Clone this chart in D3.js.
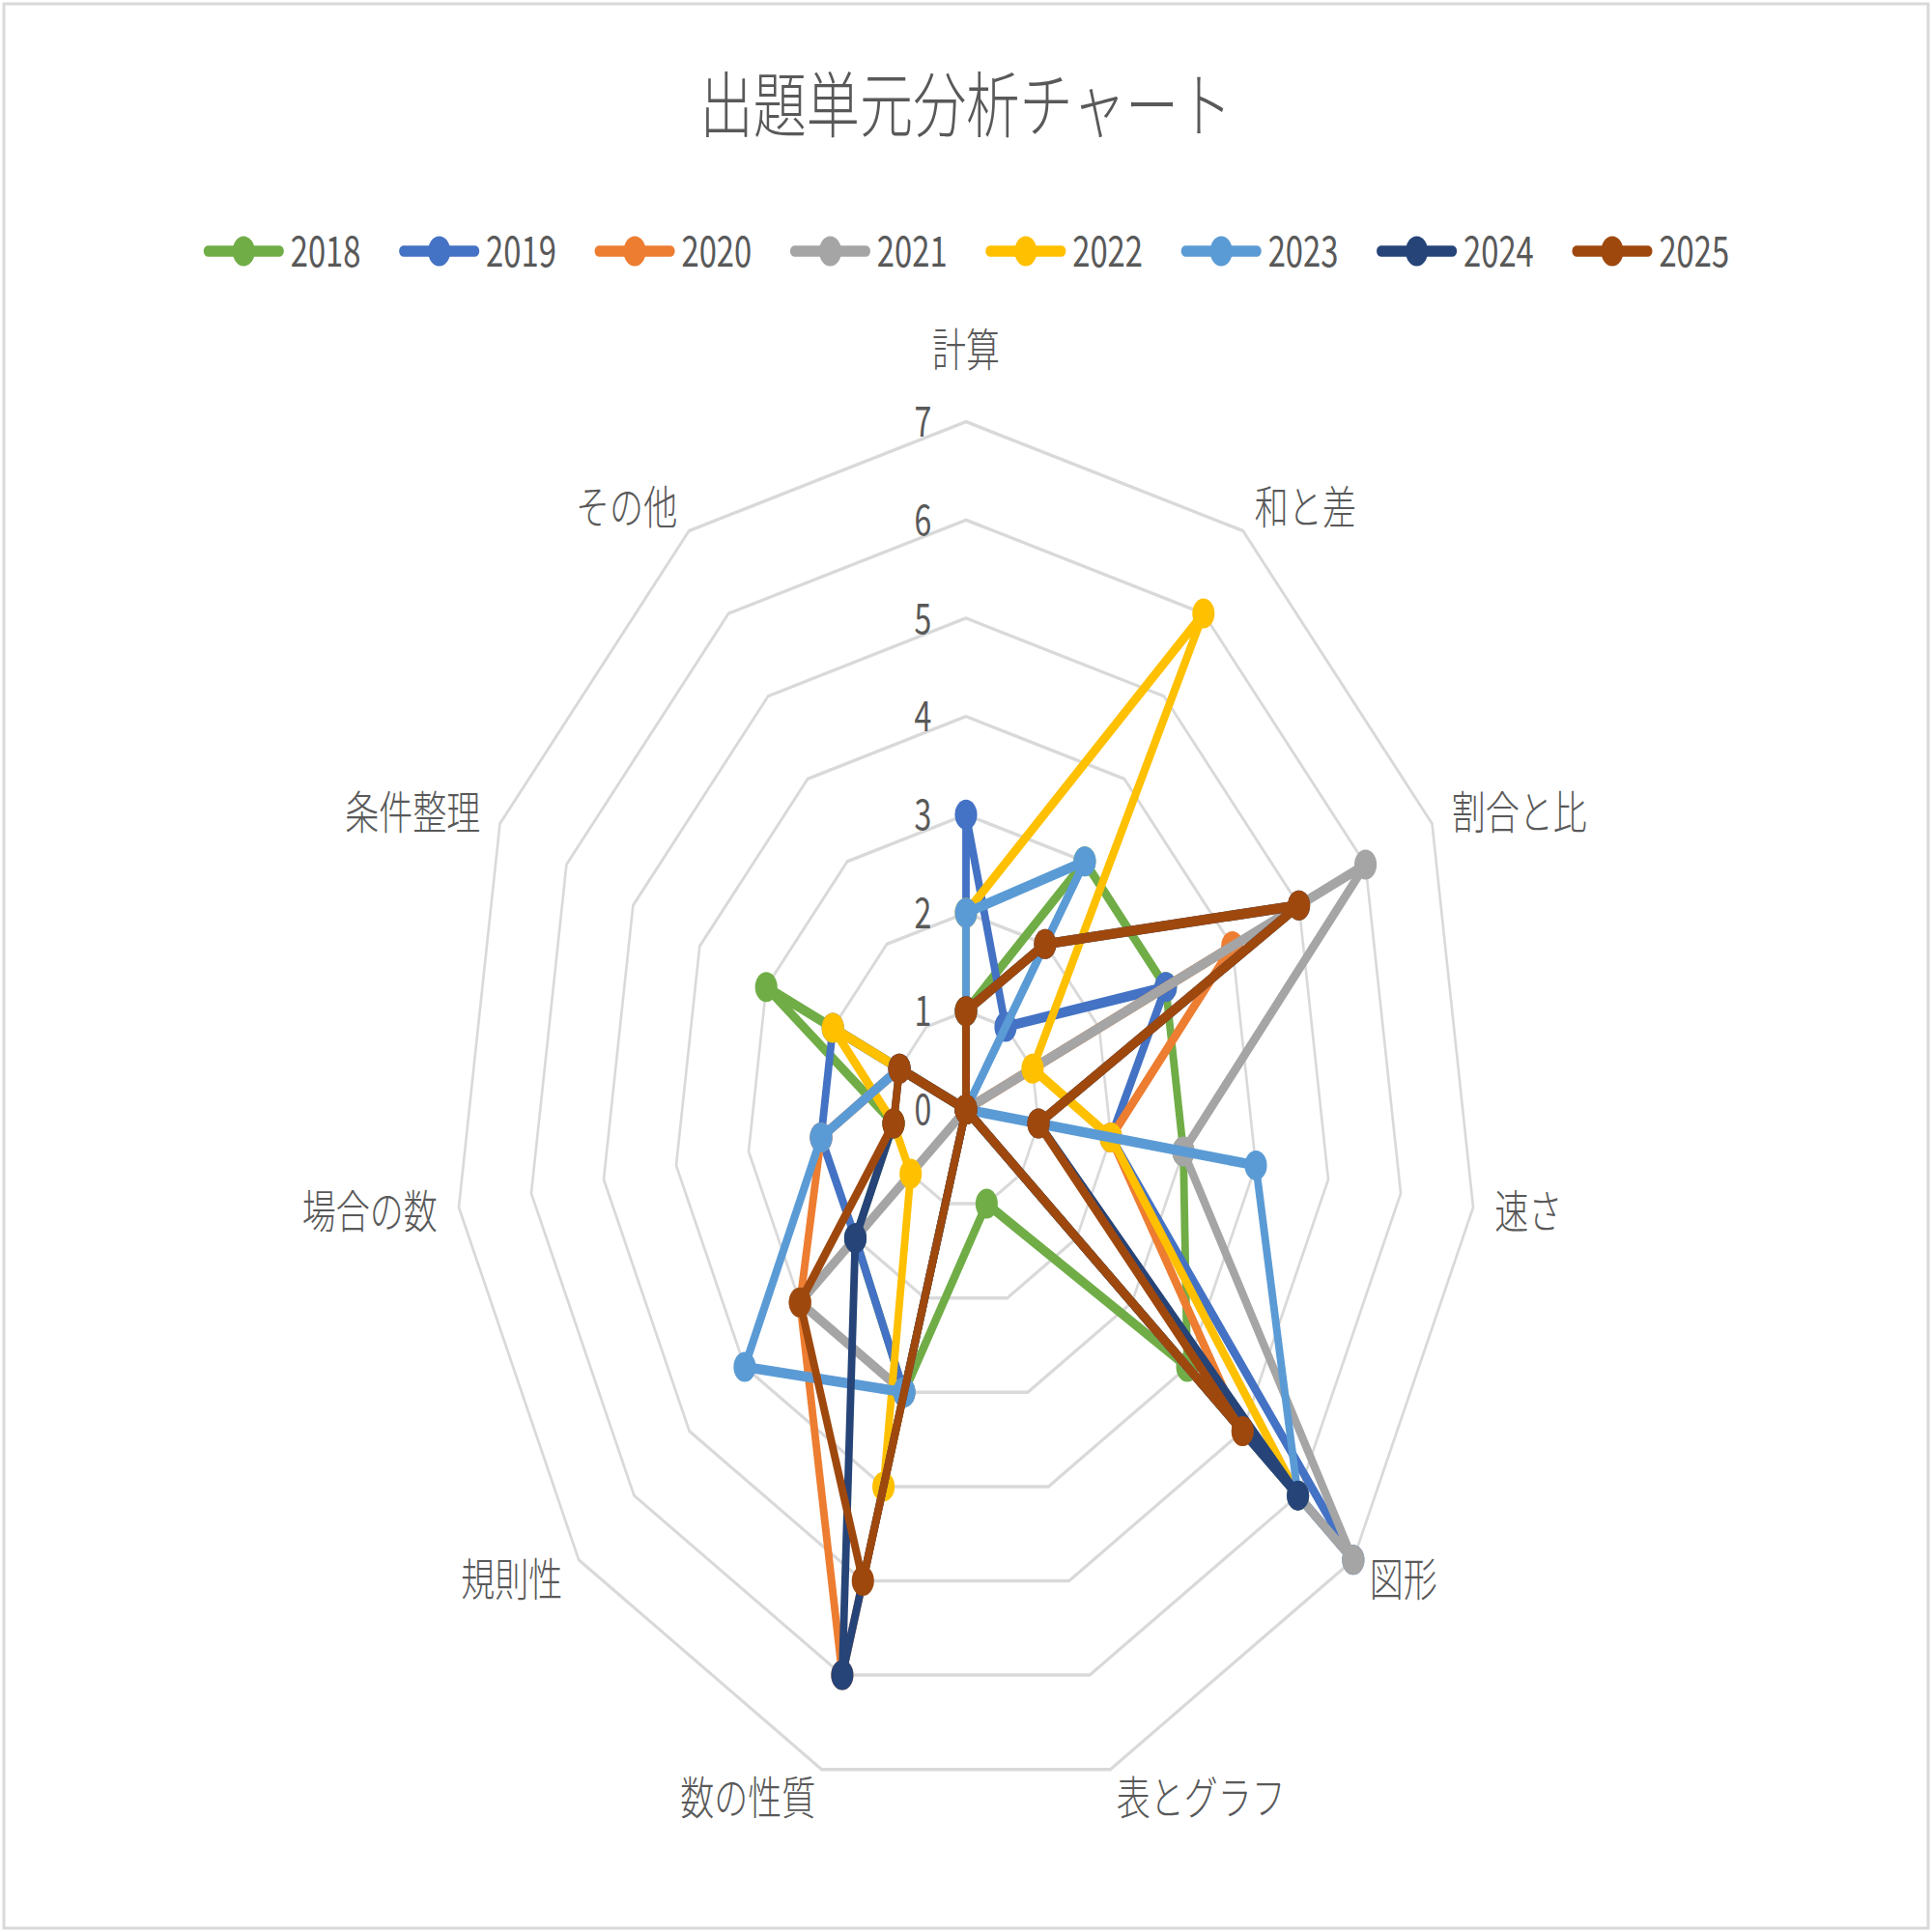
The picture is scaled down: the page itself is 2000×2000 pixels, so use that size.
<!DOCTYPE html>
<html>
<head>
<meta charset="utf-8">
<script src="https://cdn.jsdelivr.net/npm/d3@7"></script>
<style>
html, body { margin: 0; padding: 0; background: #ffffff; }
</style>
</head>
<body>
<div id="chart"></div>
<script>
// chart data
var chartTitle = "出題単元分析チャート";
var categories = ["計算", "和と差", "割合と比", "速さ", "図形", "表とグラフ", "数の性質", "規則性", "場合の数", "条件整理", "その他"];
var years = ["2018", "2019", "2020", "2021", "2022", "2023", "2024", "2025"];
var s2018 = [1, 3, 3, 3, 4, 1, 3, 2, 1, 3, 0];
var s2019 = [3, 1, 3, 2, 7, 0, 3, 2, 2, 2, 0];
var s2020 = [0, 0, 4, 2, 5, 0, 6, 3, 2, 1, 0];
var s2021 = [0, 0, 6, 3, 7, 0, 3, 3, 0, 0, 0];
var s2022 = [2, 6, 1, 2, 6, 0, 4, 1, 1, 2, 0];
var s2023 = [2, 3, 0, 4, 6, 0, 3, 4, 2, 1, 0];
var s2024 = [1, 2, 5, 1, 6, 0, 6, 2, 1, 1, 0];
var s2025 = [1, 2, 5, 1, 5, 0, 5, 3, 1, 1, 0];
var tickValues = [0, 1, 2, 3, 4, 5, 6, 7];

var seriesValues = [s2018, s2019, s2020, s2021, s2022, s2023, s2024, s2025];
var seriesColors = ["#70ad47", "#4472c4", "#ed7d31", "#a5a5a5", "#ffc000", "#5b9bd5", "#264478", "#9e480e"];

var W = 2000, H = 2000;
var cx = 1000, cy = 1148.5;
var squash = 0.745;          // whole chart is drawn narrower than tall
var FONT = '"Noto Sans CJK JP", "Noto Sans", sans-serif';
var TEXTCOL = "#595959", GRIDCOL = "#d9d9d9";

var svg = d3.select("#chart").append("svg")
    .attr("width", W).attr("height", H)
    .style("display", "block");

svg.append("rect")
    .attr("x", 4).attr("y", 4).attr("width", W - 8).attr("height", H - 8)
    .attr("fill", "#ffffff").attr("stroke", GRIDCOL).attr("stroke-width", 3);

var root = svg.append("g")
    .attr("transform", "translate(" + cx + ",0) scale(" + squash + ",1) translate(" + (-cx) + ",0)");

// title
root.append("text")
    .attr("x", cx).attr("y", 136)
    .attr("text-anchor", "middle")
    .attr("font-family", FONT).attr("font-weight", 300).attr("font-size", 74)
    .attr("fill", TEXTCOL)
    .text(chartTitle);

// legend
var legendY = 260, lineLen = 114, legFs = 44;
var legend = root.append("g");
var items = legend.selectAll("g.item").data(years).enter().append("g").attr("class", "item");
items.append("text")
    .attr("font-family", FONT).attr("font-weight", 400).attr("font-size", legFs)
    .attr("fill", TEXTCOL)
    .attr("y", legendY + 0.365 * legFs)
    .text(function (d) { return d; });
var widths = [];
items.select("text").each(function () { widths.push(this.getComputedTextLength()); });
var itemGap = 52, textGap = 8;
var total = 0;
widths.forEach(function (w, i) { total += lineLen + textGap + w + (i < widths.length - 1 ? itemGap : 0); });
var xpos = cx - total / 2;
items.each(function (d, i) {
    var g = d3.select(this);
    g.attr("transform", "translate(" + xpos + ",0)");
    g.insert("line", "text")
        .attr("x1", 7).attr("x2", lineLen - 7).attr("y1", legendY).attr("y2", legendY)
        .attr("stroke", seriesColors[i]).attr("stroke-width", 11.5)
        .attr("stroke-linecap", "round");
    g.insert("circle", "text")
        .attr("cx", lineLen / 2).attr("cy", legendY).attr("r", 15.5)
        .attr("fill", seriesColors[i]);
    g.select("text").attr("x", lineLen + textGap);
    xpos += lineLen + textGap + widths[i] + itemGap;
});

// radar
var step = 2 * Math.PI / categories.length;
var r = d3.scaleLinear().domain([0, 7]).range([0, 712]);
var radial = d3.lineRadial()
    .angle(function (d, i) { return i * step; })
    .radius(function (d) { return r(d); })
    .curve(d3.curveLinearClosed);

var plot = root.append("g").attr("transform", "translate(" + cx + "," + cy + ")");

plot.selectAll("path.ring").data(tickValues.slice(1)).enter().append("path")
    .attr("class", "ring")
    .attr("d", function (v) { return radial(categories.map(function () { return v; })); })
    .attr("fill", "none").attr("stroke", GRIDCOL).attr("stroke-width", 3.5);

var tickFs = 43;
plot.selectAll("text.tick").data(tickValues).enter().append("text")
    .attr("class", "tick")
    .attr("x", -48).attr("y", function (v) { return -r(v) + 0.365 * tickFs; })
    .attr("text-anchor", "end")
    .attr("font-family", FONT).attr("font-weight", 400).attr("font-size", tickFs)
    .attr("fill", TEXTCOL)
    .text(function (v) { return v; });

var catFs = 47;
plot.selectAll("text.cat").data(categories).enter().append("text")
    .attr("class", "cat")
    .attr("text-anchor", "middle")
    .attr("font-family", FONT).attr("font-weight", 300).attr("font-size", catFs)
    .attr("fill", TEXTCOL)
    .text(function (d) { return d; })
    .each(function (d, i) {
        var w = this.getComputedTextLength();
        var dx = Math.sin(i * step), dy = -Math.cos(i * step);
        var tip = r(7);
        var x = tip * dx + dx * 30, y = tip * dy + dy * 30;
        if (Math.abs(dx) < 0.05) { y += dy * 45; } else { x += (dx > 0 ? 1 : -1) * w / 2; }
        d3.select(this).attr("x", x).attr("y", y + 0.37 * catFs);
    });

seriesValues.forEach(function (vals, k) {
    var g = plot.append("g");
    g.append("path")
        .attr("d", radial(vals))
        .attr("fill", "none")
        .attr("stroke", seriesColors[k]).attr("stroke-width", 10.5)
        .attr("stroke-linejoin", "round");
    g.selectAll("circle").data(vals).enter().append("circle")
        .attr("cx", function (d, i) { return r(d) * Math.sin(i * step); })
        .attr("cy", function (d, i) { return -r(d) * Math.cos(i * step); })
        .attr("r", 15.5)
        .attr("fill", seriesColors[k]);
});
</script>
</body>
</html>
